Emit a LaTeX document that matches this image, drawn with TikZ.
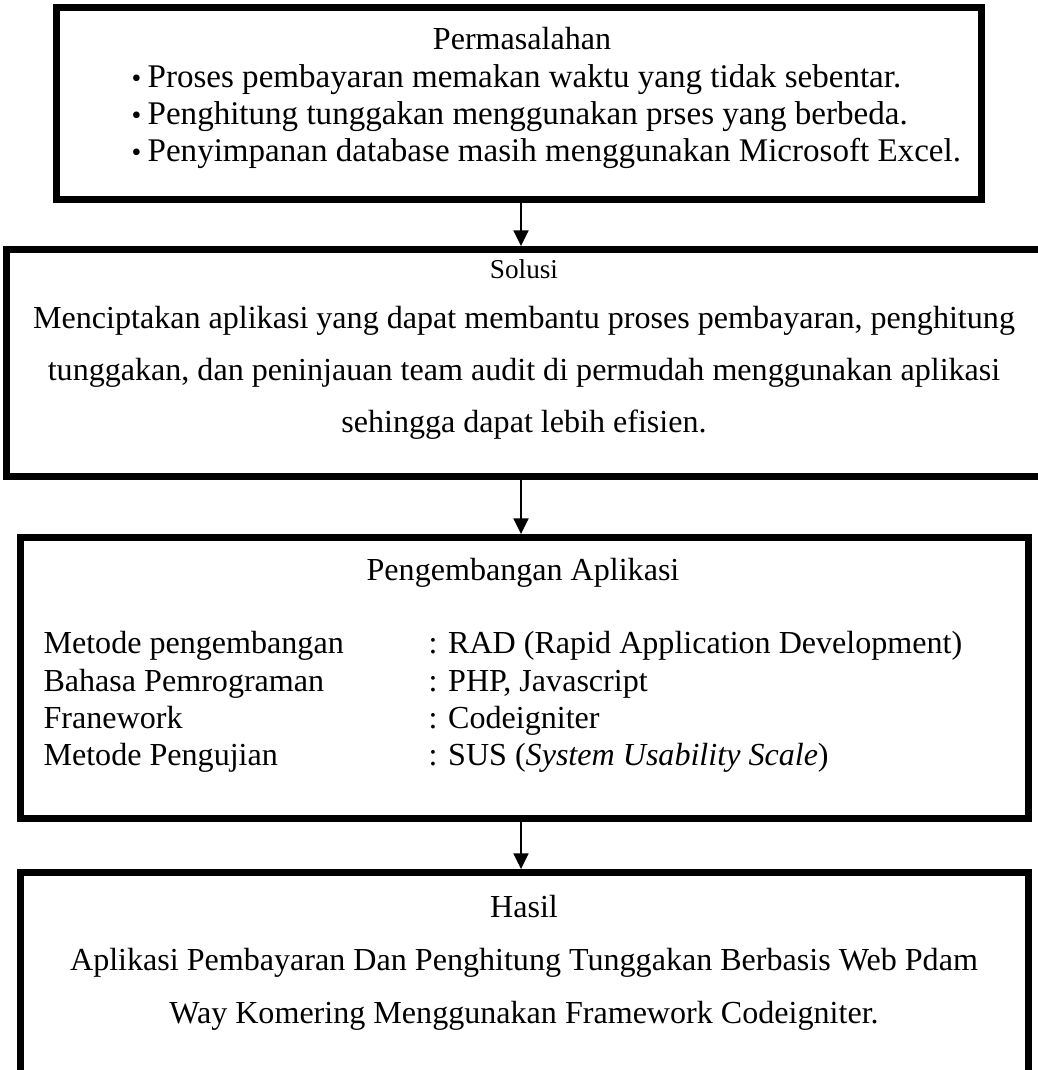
\documentclass[tikz,border=0pt]{standalone}
\usepackage{fontspec}
\setmainfont{Liberation Serif}
\usepackage{tikz}
\usetikzlibrary{positioning, arrows.meta}

\begin{document}
\begin{tikzpicture}[x=0.36pt, y=-0.36pt,
		kotak/.style={draw, rectangle, line width=2.5pt, outer sep=1.25pt, inner sep=0pt},
		poin/.style={font=\fontsize{11.9}{13}\selectfont, inner sep=0pt, anchor=base west},
		teks/.style={font=\fontsize{11.55}{13}\selectfont, inner sep=0pt, anchor=base},
		kecil/.style={font=\fontsize{9.8}{11}\selectfont, inner sep=0pt, anchor=base},
		panah/.style={-{Triangle[width=5.4pt, length=5.6pt]}, line width=0.5pt}]
		
		\useasboundingbox (0,0) rectangle (1038,1070);
		\clip (0,0) rectangle (1038,1070);
		
		% Kotak
		\node[kotak, minimum width=333pt, minimum height=69.12pt] (masalah) at (519,103.5) {};
		\node[kotak, minimum width=372.6pt, minimum height=81.72pt] (solusi) at (524,363) {};
		\node[kotak, minimum width=362.88pt, minimum height=101.16pt] (pengembangan) at (524.5,678) {};
		\node[kotak, minimum width=362.88pt, minimum height=76.5pt] (hasil) at (524.5,978.75) {};
		
		% Permasalahan
		\node[teks] (judul1) at (522,50) {Permasalahan};
		\node[poin] (m1) at (131,88) {\makebox[5.8pt][l]{\fontsize{10}{10}\selectfont•}Proses pembayaran memakan waktu yang tidak sebentar.};
		\node[poin] (m2) at (131,125) {\makebox[5.8pt][l]{\fontsize{10}{10}\selectfont•}Penghitung tunggakan menggunakan prses yang berbeda.};
		\node[poin] (m3) at (131,162) {\makebox[5.8pt][l]{\fontsize{10}{10}\selectfont•}Penyimpanan database masih menggunakan Microsoft Excel.};
		
		% Solusi
		\node[kecil] (judul2) at (524,278) {Solusi};
		\node[teks] (s1) at (524,328) {Menciptakan aplikasi yang dapat membantu proses pembayaran, penghitung};
		\node[teks] (s2) at (524,380) {tunggakan, dan peninjauan team audit di permudah menggunakan aplikasi};
		\node[teks] (s3) at (524,432) {sehingga dapat lebih efisien.};
		
		% Pengembangan Aplikasi
		\node[teks] (judul3) at (523,580) {Pengembangan Aplikasi};
		\node[teks, anchor=base west] (p1) at (43,653) {Metode pengembangan};
		\node[teks, anchor=base west] (p2) at (43,691) {Bahasa Pemrograman};
		\node[teks, anchor=base west] (p3) at (43,728) {Franework};
		\node[teks, anchor=base west] (p4) at (43,765) {Metode Pengujian};
		\node[teks, anchor=base west] (q1) at (428,653) {: RAD (Rapid Application Development)};
		\node[teks, anchor=base west] (q2) at (428,691) {: PHP, Javascript};
		\node[teks, anchor=base west] (q3) at (428,728) {: Codeigniter};
		\node[teks, anchor=base west] (q4) at (428,765) {: SUS (\textit{System Usability Scale})};
		
		% Hasil
		\node[teks] (judul4) at (524,917) {Hasil};
		\node[teks] (h1) at (524,970) {Aplikasi Pembayaran Dan Penghitung Tunggakan Berbasis Web Pdam};
		\node[teks] (h2) at (524,1023) {Way Komering Menggunakan Framework Codeigniter.};
		
		% Panah
		\coordinate (sumbu) at (521,0);
		\draw[panah] (sumbu |- masalah.south) -- (sumbu |- solusi.north);
		\draw[panah] (sumbu |- solusi.south) -- (sumbu |- pengembangan.north);
		\draw[panah] (sumbu |- pengembangan.south) -- (sumbu |- hasil.north);
		
	\end{tikzpicture}
\end{document}
